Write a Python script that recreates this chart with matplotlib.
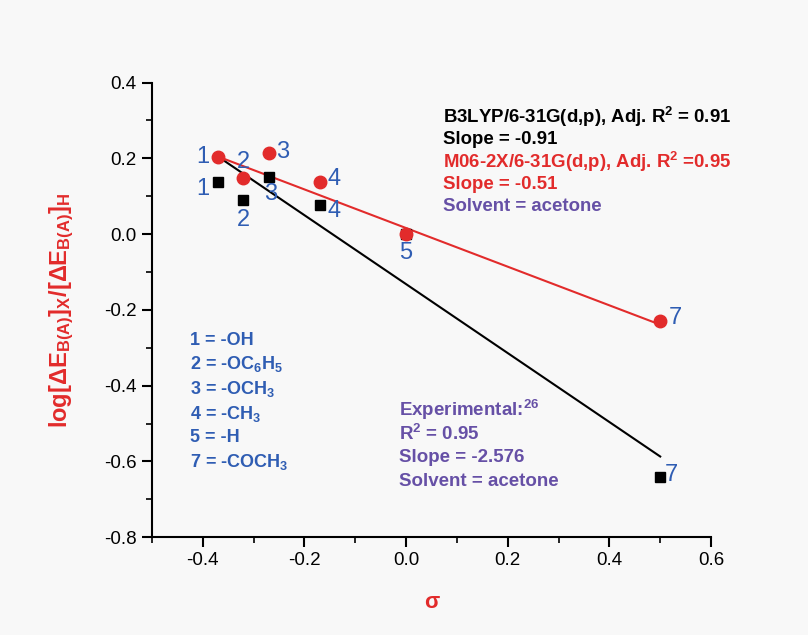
import matplotlib
matplotlib.use('Agg')
import matplotlib.pyplot as plt
import numpy as np
from matplotlib.ticker import MultipleLocator

plt.rcParams['font.family'] = ['Liberation Sans', 'DejaVu Sans']
plt.rcParams['mathtext.fontset'] = 'custom'
plt.rcParams['mathtext.rm'] = 'Liberation Sans'
plt.rcParams['mathtext.bf'] = 'Liberation Sans:bold'
plt.rcParams['mathtext.it'] = 'Liberation Sans:italic'

# substituent constants and log ratios
labels = ['1', '2', '3', '4', '5', '7']
sigma = [-0.37, -0.32, -0.27, -0.17, 0.0, 0.50]
m06 = [0.203, 0.147, 0.213, 0.138, 0.0, -0.230]
b3lyp = [0.137, 0.089, 0.152, 0.078, 0.0, -0.640]

# fitted lines (slope, intercept)
b3lyp_fit = (-0.91, -0.132)
m06_fit = (-0.51, 0.016)
fit_x = [-0.37, 0.50]

blue = '#2f5db3'
red = '#e22b2b'
purple = '#6650a6'

fig = plt.figure(figsize=(8.08, 6.35), dpi=100, facecolor='#f8f8f8')
ax = fig.add_axes([0.188, 0.154, 0.692, 0.716])
ax.set_facecolor('#f8f8f8')

fx = np.array(fit_x)
ax.plot(fx, b3lyp_fit[0]*fx + b3lyp_fit[1], color='black', lw=1.5, zorder=2)
ax.plot(fx, m06_fit[0]*fx + m06_fit[1], color=red, lw=1.5, zorder=2)
ax.plot(sigma, b3lyp, 's', color='black', ms=7, zorder=3)
ax.plot(sigma, m06, 'o', color=red, ms=9, zorder=4)

# label offsets in points (styling only)
red_off = [(-6, 0, 'right', 'center'), (0, 4, 'center', 'bottom'), (5, 1, 'left', 'center'),
           (6, 2, 'left', 'center'), (0, -6, 'center', 'top'), (6, 2, 'left', 'center')]
blk_off = [(-6, -5, 'right', 'center'), (0, -6, 'center', 'top'), (1, -5, 'center', 'top'),
           (6, -5, 'left', 'center'), None, (3, 1, 'left', 'center')]
for i, lab in enumerate(labels):
    dx, dy, ha, va = red_off[i]
    ax.annotate(lab, (sigma[i], m06[i]), xytext=(dx, dy), textcoords='offset points',
                ha=ha, va=va, color=blue, fontsize=17)
    if blk_off[i] is not None:
        dx, dy, ha, va = blk_off[i]
        ax.annotate(lab, (sigma[i], b3lyp[i]), xytext=(dx, dy), textcoords='offset points',
                    ha=ha, va=va, color=blue, fontsize=17)

ax.set_xlim(-0.5, 0.6)
ax.set_ylim(-0.8, 0.4)
ax.xaxis.set_major_locator(MultipleLocator(0.2))
ax.xaxis.set_minor_locator(MultipleLocator(0.1))
ax.yaxis.set_major_locator(MultipleLocator(0.2))
ax.yaxis.set_minor_locator(MultipleLocator(0.1))
ax.set_xticks([-0.4, -0.2, 0.0, 0.2, 0.4, 0.6])
ax.set_xticklabels(['-0.4', '-0.2', '0.0', '0.2', '0.4', '0.6'])
ax.set_yticks([0.4, 0.2, 0.0, -0.2, -0.4, -0.6, -0.8])
ax.set_yticklabels(['0.4', '0.2', '0.0', '-0.2', '-0.4', '-0.6', '-0.8'])
ax.tick_params(which='major', direction='out', length=7, width=1.5, labelsize=13.5, pad=4)
ax.tick_params(which='minor', direction='out', length=4, width=1.2)
for s in ['top', 'right']:
    ax.spines[s].set_visible(False)
for s in ['left', 'bottom']:
    ax.spines[s].set_linewidth(1.5)

ax.set_xlabel('σ', color=red, fontsize=16, fontweight='bold', labelpad=16)
ax.set_ylabel(r'log[ΔE$_\mathbf{B(A)}$]$_\mathbf{X}$/[ΔE$_\mathbf{B(A)}$]$_\mathbf{H}$',
              color=red, fontsize=17, fontweight='bold', labelpad=20)

legend_lines = [(r'B3LYP/6-31G(d,p), Adj. R$^\mathbf{2}$ = 0.91', 'black'),
                ('Slope = -0.91', 'black'),
                (r'M06-2X/6-31G(d,p), Adj. R$^\mathbf{2}$ =0.95', red),
                ('Slope = -0.51', red),
                ('Solvent = acetone', purple)]
for k, (t, c) in enumerate(legend_lines):
    fig.text(443/808, 1 - (117 + 22.5*k)/635, t, color=c, fontsize=13.4, fontweight='bold',
             ha='left', va='center')

exp_lines = [r'Experimental:$^\mathbf{26}$', r'R$^\mathbf{2}$ = 0.95', 'Slope = -2.576',
             'Solvent = acetone']
for k, t in enumerate(exp_lines):
    fig.text(399/808, 1 - (410 + 24*k)/635, t, color=purple, fontsize=13.5, fontweight='bold',
             ha='left', va='center')

subst = ['1 = -OH', r'2 = -OC$_\mathbf{6}$H$_\mathbf{5}$', r'3 = -OCH$_\mathbf{3}$',
         r'4 = -CH$_\mathbf{3}$', '5 = -H', r'7 = -COCH$_\mathbf{3}$']
for k, t in enumerate(subst):
    fig.text(190/808, 1 - (340 + 24.5*k)/635, t, color=blue, fontsize=13, fontweight='bold',
             ha='left', va='center')

fig.savefig('out.png', dpi=100, facecolor=fig.get_facecolor())
